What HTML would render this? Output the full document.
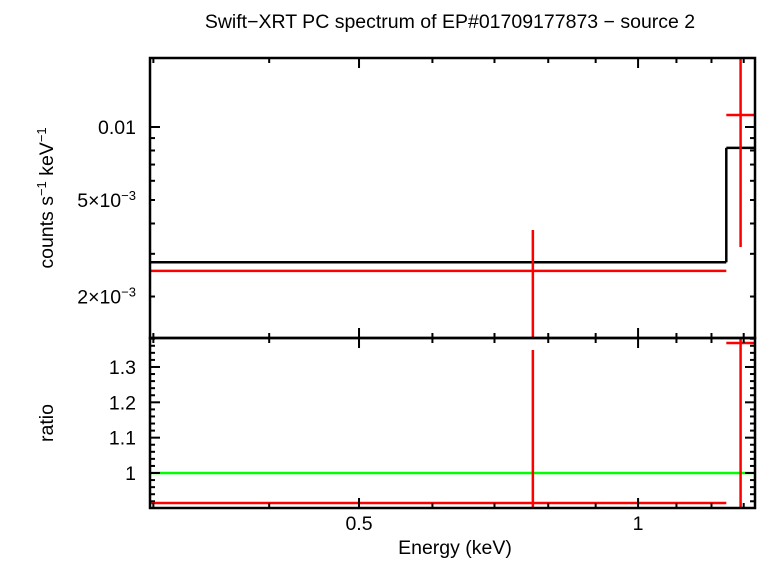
<!DOCTYPE html>
<html><head><meta charset="utf-8"><style>
body{margin:0;background:#fff}
svg text{font-family:"Liberation Sans",sans-serif;fill:#000}
</style></head><body>
<svg id="c" width="758" height="558" xmlns="http://www.w3.org/2000/svg">
<text x="450" y="28" font-size="19.5" text-anchor="middle">Swift−XRT PC spectrum of EP#01709177873 − source 2</text>
<text x="455" y="554" font-size="19.5" text-anchor="middle">Energy (keV)</text>
<text transform="translate(53,198) rotate(-90)" font-size="19.5" text-anchor="middle">counts s<tspan font-size="13" dy="-7">−1</tspan><tspan dy="7"> keV</tspan><tspan font-size="13" dy="-7">−1</tspan></text>
<text transform="translate(53,423) rotate(-90)" font-size="19.5" text-anchor="middle">ratio</text>
<g id="g"></g>
</svg>
<script>
const modelEdges=[0.2975,1.245,1.337];
const modelVals=[2.77e-3,8.2e-3];
const dataE=[0.770,1.29];
const dataElo=[0.2975,1.245];
const dataEhi=[1.245,1.337];
const dataY=[2.55e-3,0.0112];
const dataYlo=[1.2e-3,3.2e-3];
const dataYhi=[3.76e-3,0.03];
const ratioY=[0.915,1.368];
const ratioLo=[0.85,0.85];
const ratioHi=[1.348,1.5];
const xTickLabels=[0.5,1];
const topTicks=[0.01,5e-3,2e-3];
const topTickLabels=['0.01','5×10<tspan font-size="13" dy="-7">−3</tspan>','2×10<tspan font-size="13" dy="-7">−3</tspan>'];
const ratioTicks=[1,1.1,1.2,1.3];

const L=150,R=755,T=58,M=338,B=508;
const xmin=0.2975,xmax=1.337,ymin=1.349e-3,ymax=0.01925,rmin=0.901,rmax=1.382;
const X=e=>L+(Math.log10(e)-Math.log10(xmin))/(Math.log10(xmax)-Math.log10(xmin))*(R-L);
const Y=v=>M-(Math.log10(v)-Math.log10(ymin))/(Math.log10(ymax)-Math.log10(ymin))*(M-T);
const YR=v=>B-(v-rmin)/(rmax-rmin)*(B-M);
const g=document.getElementById('g');const NS='http://www.w3.org/2000/svg';
function ln(x1,y1,x2,y2,c,w,name){const l=document.createElementNS(NS,'line');
l.setAttribute('x1',x1);l.setAttribute('y1',y1);l.setAttribute('x2',x2);l.setAttribute('y2',y2);
l.setAttribute('stroke',c);l.setAttribute('stroke-width',w);


g.appendChild(l);return l;}
function tx(x,y,s,anchor,name){const t=document.createElementNS(NS,'text');t.setAttribute('x',x);t.setAttribute('y',y);
t.setAttribute('font-size','19.5');t.setAttribute('text-anchor',anchor);t.innerHTML=s;


g.appendChild(t);}
const cl=v=>Math.max(T,Math.min(M,v));const clr=v=>Math.max(M,Math.min(B,v));
ln(L,YR(1),R,YR(1),'#00ff00',2.5,'unity-line');
for(let i=0;i<modelVals.length;i++){ln(X(modelEdges[i]),Y(modelVals[i]),X(modelEdges[i+1]),Y(modelVals[i]),'#000',2.5,'model-step');
if(i>0)ln(X(modelEdges[i]),Y(modelVals[i-1]),X(modelEdges[i]),Y(modelVals[i]),'#000',2.5,'model-step-riser');}
for(let i=0;i<dataE.length;i++){
ln(X(dataElo[i]),Y(dataY[i]),X(dataEhi[i]),Y(dataY[i]),'red',2.5,'data-point-xerr');
ln(X(dataE[i]),cl(Y(dataYhi[i])),X(dataE[i]),cl(Y(dataYlo[i])),'red',2.5,'data-point-yerr');
ln(X(dataElo[i]),clr(YR(ratioY[i])),X(dataEhi[i]),clr(YR(ratioY[i])),'red',2.5,'ratio-point-xerr');
ln(X(dataE[i]),clr(YR(ratioHi[i])),X(dataE[i]),clr(YR(ratioLo[i])),'red',2.5,'ratio-point-yerr');}
[[T,M],[M,B]].forEach(([a,b],k)=>{const r=document.createElementNS(NS,'rect');r.setAttribute('x',L);r.setAttribute('y',a);r.setAttribute('width',R-L);r.setAttribute('height',b-a);
r.setAttribute('fill','none');r.setAttribute('stroke','#000');r.setAttribute('stroke-width',2.5);

g.appendChild(r);});
for(let e=0.3;e<=1.34;e+=0.1){const x=X(e);const maj=Math.abs(e-0.5)<0.01||Math.abs(e-1)<0.01;const h=maj?10:5;
[T,M].forEach(y=>ln(x,y,x,y+h,'#000',2,'x-tick'));[M,B].forEach(y=>ln(x,y,x,y-h,'#000',2,'x-tick'));}
xTickLabels.forEach(v=>tx(X(v),530,String(v),'middle','x-tick-label'));
for(let d=-3;d<=-2;d++)for(let m=1;m<10;m++){const v=m*Math.pow(10,d);if(v<ymin||v>ymax)continue;const y=Y(v);const h=m==1?10:5;
ln(L,y,L+h,y,'#000',2,'y-tick');ln(R,y,R-h,y,'#000',2,'y-tick');}
topTicks.forEach((v,i)=>tx(136,Y(v)+7,topTickLabels[i],'end','y-tick-label'));
for(let v=0.92;v<1.381;v+=0.02){const y=YR(v);const maj=Math.abs((v*10)-Math.round(v*10))<0.01;const h=maj?10:5;
ln(L,y,L+h,y,'#000',2,'ratio-tick');ln(R,y,R-h,y,'#000',2,'ratio-tick');}
ratioTicks.forEach(v=>tx(136,YR(v)+7,String(v),'end','ratio-tick-label'));
</script>
</body></html>
